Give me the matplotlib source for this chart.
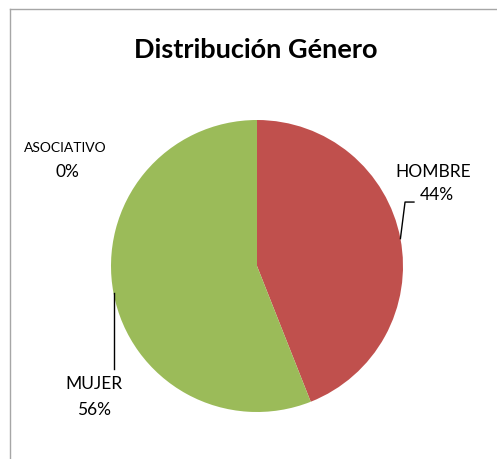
import numpy as np
import matplotlib.pyplot as plt
from matplotlib.lines import Line2D

categorias = ["HOMBRE", "MUJER", "ASOCIATIVO"]
valores = [44, 56, 0]
colores = ["#C0504D", "#9BBB59", "#4F81BD"]

plt.rcParams['font.family'] = ['Lato', 'DejaVu Sans']

fig = plt.figure(figsize=(4.97, 4.60), dpi=100)
W, H = 497, 460
cx, cy, r = 257, 267, 146
ax = fig.add_axes([(cx - r) / W, (H - cy - r) / H, 2 * r / W, 2 * r / H])

wedges, _ = ax.pie(valores, colors=colores, startangle=90, counterclock=False,
                   wedgeprops=dict(linewidth=0))
ax.set_xlim(-1, 1)
ax.set_ylim(-1, 1)
ax.set_aspect('equal')

total = sum(valores)
pct = [f"{round(v * 100 / total)}%" for v in valores]

def borde(w):
    ang = np.deg2rad((w.theta1 + w.theta2) / 2)
    return np.cos(ang), np.sin(ang)

# HOMBRE
x0, y0 = borde(wedges[0])
ax.plot([x0, 1.014, 1.075], [y0, 0.438, 0.438], color='black', lw=1, clip_on=False)
ax.text(1.21, 0.65, categorias[0], ha='center', va='center', fontsize=12.5)
ax.text(1.235, 0.49, pct[0], ha='center', va='center', fontsize=12.5)

# MUJER
x1, y1 = borde(wedges[1])
ax.plot([x1, x1], [y1, -0.705], color='black', lw=1, clip_on=False)
ax.text(-1.116, -0.80, categorias[1], ha='center', va='center', fontsize=12.5)
ax.text(-1.116, -0.98, pct[1], ha='center', va='center', fontsize=12.5)

# ASOCIATIVO
ax.text(-1.315, 0.815, categorias[2], ha='center', va='center', fontsize=10)
ax.text(-1.30, 0.65, pct[2], ha='center', va='center', fontsize=12.5)

fig.text(256 / W, 1 - 50 / H, "Distribución Género", ha='center', va='center',
         fontsize=19.5, fontweight='bold')

# marco del gráfico
fig.add_artist(Line2D([10 / W, 10 / W], [0, 1 - 10 / H], color='#A6A6A6', lw=1))
fig.add_artist(Line2D([10 / W, 1], [1 - 10 / H, 1 - 10 / H], color='#A6A6A6', lw=1))

fig.savefig("out.png", dpi=100)
